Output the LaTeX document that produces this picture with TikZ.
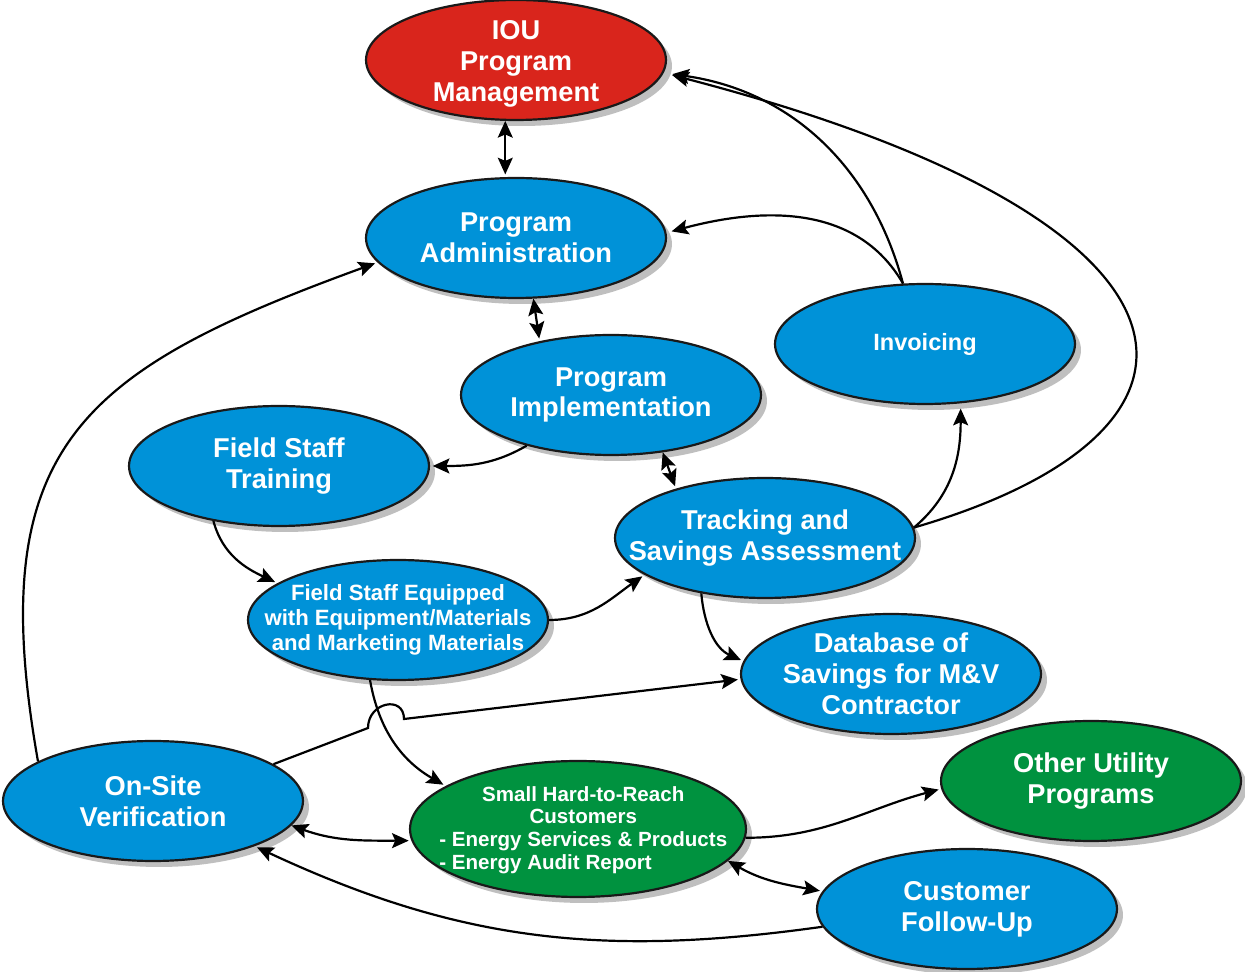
\documentclass[tikz,border=0pt]{standalone}
\usepackage{fontspec}
\setmainfont{Liberation Sans}
\usetikzlibrary{shapes.geometric,shadows,arrows.meta}
\definecolor{ovalblue}{HTML}{0092D8}
\definecolor{ovalred}{HTML}{D9251C}
\definecolor{ovalgreen}{HTML}{00923F}
\begin{document}
\begin{tikzpicture}[x=0.02cm,y=-0.02cm,->,>={Stealth[length=9.5pt,width=8.5pt,inset=1.8pt]},shorten >=1.5pt,line width=1.25pt,
  oval/.style={ellipse,draw=black!90,fill=ovalblue,minimum width=6cm,minimum height=2.4cm,inner sep=0pt,
    drop shadow={shadow xshift=0.12cm,shadow yshift=-0.12cm,fill=black!25,opacity=1}},
  txt/.style={text=white,align=center,font=\fontsize{15.5}{17.6}\selectfont\bfseries}]
\useasboundingbox (0,0) rectangle (1245,972);

\node[oval,fill=ovalred,label={[txt,yshift=-2pt]center:IOU\\Program\\Management}] (1) at (516,60) {};
\node[oval,label={[txt]center:Program\\Administration}] (2) at (516,238) {};
\node[oval,label={[txt]center:Program\\Implementation}] (3) at (611,395) {};
\node[oval,label={[txt,font=\fontsize{13.4}{15}\selectfont\bfseries]center:Invoicing}] (4) at (925,344) {};
\node[oval,label={[txt]center:Field Staff\\Training}] (5) at (279,466) {};
\node[oval,label={[txt]center:Tracking and\\Savings Assessment}] (6) at (765,538) {};
\node[oval,label={[txt,font=\fontsize{12.6}{14.2}\selectfont\bfseries]center:Field Staff Equipped\\with Equipment/Materials\\and Marketing Materials}] (7) at (398,620) {};
\node[oval,label={[txt]center:Database of\\Savings for M\&V\\Contractor}] (8) at (891,674) {};
\node[oval,label={[txt]center:On-Site\\Verification}] (9) at (153,801) {};
\node[oval,fill=ovalgreen,minimum width=6.72cm,minimum height=2.72cm,
  label={[txt,xshift=3pt,yshift=-1pt,font=\fontsize{11.7}{13}\selectfont\bfseries]center:\begin{tabular}{@{}l@{}}\multicolumn{1}{@{}c@{}}{Small Hard-to-Reach}\\\multicolumn{1}{@{}c@{}}{Customers}\\- Energy Services \& Products\\- Energy Audit Report\end{tabular}}] (10) at (578,829) {};
\node[oval,fill=ovalgreen,label={[txt]center:Other Utility\\Programs}] (11) at (1091,781) {};
\node[oval,label={[txt]center:Customer\\Follow-Up}] (12) at (967,909) {};

\coordinate (h1) at (368,728);
\coordinate (h2) at (404,719);

\path
  (1.260) edge[<->] (2.100)
  (2.-74) edge[<->] (3.143)
  (4.110) edge[out=105,in=-8,shorten >=5pt] (1.-5)
  (4.110) edge[out=120,in=15,shorten >=3pt] (2.2)
  (3.211) edge[out=210,in=0] (5.0)
  (3.-48) edge[<->] (6.151)
  (5.220) edge[out=-75,in=155] (7.163)
  (7.0) edge[out=0,in=215] (6.197)
  (6.4) edge[out=40,in=-90,shorten >=3pt] (4.-59)
  (6.221) edge[out=-85,in=156] (8.175)
  (7.245) edge[out=-80,in=150] (10.162)
  (9.161) edge[out=100,in=-160,looseness=1.35] (2.190)
  (9.-10) edge[<->,out=-20,in=180] (10.184)
  (10.-3) edge[out=0,in=195] (11.183)
  (10.-12) edge[<->,out=-30,in=170] (12.173)
  (12.187) edge[out=188,in=-25] (9.-24)
  ;
\draw[shorten >=5pt] (6.4) .. controls (1250,430) and (1230,220) .. (1.-5);
\draw (9.17) -- (h1) .. controls +(0,-26) and +(0,-24) .. (h2) -- (8.182);
\end{tikzpicture}
\end{document}
